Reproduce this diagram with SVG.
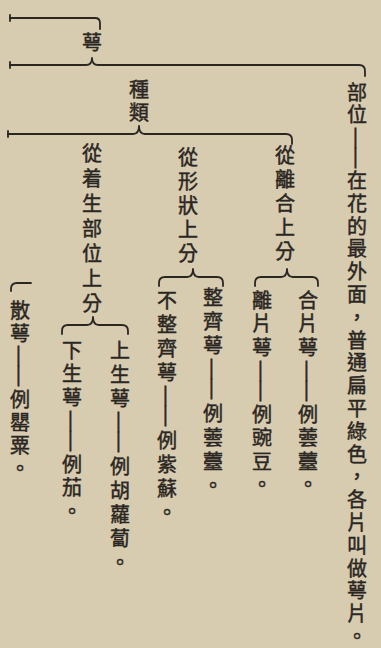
<svg xmlns="http://www.w3.org/2000/svg" width="381" height="648" viewBox="0 0 381 648">
<style>
.t{font-family:"Noto Sans CJK TC","Noto Sans CJK SC",sans-serif;font-size:20px;fill:#2a2622;stroke:#2a2622;stroke-width:0.45px;writing-mode:vertical-rl;text-orientation:mixed}
.b{fill:none;stroke:#2a2622;stroke-width:1.8;stroke-linecap:round;stroke-linejoin:round}
.d{font-family:"Liberation Serif",serif;letter-spacing:0;stroke-width:0.8px}
.d2{font-family:"Liberation Serif",serif;stroke-width:0.8px}
</style>
<rect width="381" height="648" fill="#d7cbb0"/>
<g id="connectors">
<path class="b" d="M10,18 L95,18 Q100,18 100,23 L100,29"/>
<path class="b" d="M10,15 L10,21"/>
<path class="b" d="M10,65 L86,65 Q92,65 92,58 Q92,65 98,65 L359,65 Q365,65 365,71 L365,76"/>
<path class="b" d="M10,62 L10,68"/>
<path class="b" d="M8,134 L133,134 Q139,134 139,126 Q139,134 145,134 L286,134 Q292,134 292,140 L292,144"/>
<path class="b" d="M8,131 L8,137"/>
<path class="b" d="M255,286 L255,283 Q255,277 261,277 L281,277 Q287,277 287,269 Q287,277 293,277 L312,277 Q318,277 318,283 L318,286"/>
<path class="b" d="M159,286 L159,283 Q159,277 165,277 L187,277 Q193,277 193,269 Q193,277 199,277 L217,277 Q223,277 223,283 L223,286"/>
<path class="b" d="M62,334 L62,331 Q62,325 68,325 L87,325 Q93,325 93,317 Q93,325 99,325 L122,325 Q128,325 128,331 L128,334"/>
<path class="b" d="M11,291 L11,289 Q11,283 17,283 L31,283"/>
</g>
<g id="n-e"><text class="t" x="92" y="32">萼</text></g>
<g id="n-buwei"><text class="t" x="357" y="82" style="letter-spacing:2.8px">部位<tspan class="d">—</tspan><tspan class="d2">—</tspan>在花的最外面，普通扁平綠色，各片叫做萼片。</text></g>
<g id="n-zhonglei"><text class="t" x="139" y="79" style="letter-spacing:3px">種類</text></g>
<g id="n-lihe"><text class="t" x="285" y="145" style="letter-spacing:4px">從離合上分</text></g>
<g id="n-hepian"><text class="t" x="308" y="290" style="letter-spacing:3.5px">合片萼<tspan class="d">—</tspan><tspan class="d2">—</tspan>例蕓薹。</text></g>
<g id="n-lipian"><text class="t" x="262" y="290" style="letter-spacing:3.5px">離片萼<tspan class="d">—</tspan><tspan class="d2">—</tspan>例豌豆。</text></g>
<g id="n-xingzhuang"><text class="t" x="188" y="147" style="letter-spacing:4px">從形狀上分</text></g>
<g id="n-zhengqi"><text class="t" x="213" y="287" style="letter-spacing:4px">整齊萼<tspan class="d">—</tspan><tspan class="d2">—</tspan>例蕓薹。</text></g>
<g id="n-buzhengqi"><text class="t" x="167" y="290" style="letter-spacing:4px">不整齊萼<tspan class="d">—</tspan><tspan class="d2">—</tspan>例紫蘇。</text></g>
<g id="n-zhuosheng"><text class="t" x="92" y="143" style="letter-spacing:5px">從着生部位上分</text></g>
<g id="n-shangsheng"><text class="t" x="120" y="340" style="letter-spacing:4px">上生萼<tspan class="d">—</tspan><tspan class="d2">—</tspan>例胡蘿蔔。</text></g>
<g id="n-xiasheng"><text class="t" x="72" y="340" style="letter-spacing:3.5px">下生萼<tspan class="d">—</tspan><tspan class="d2">—</tspan>例茄。</text></g>
<g id="n-sane"><text class="t" x="20" y="300" style="letter-spacing:3px">散萼<tspan class="d">—</tspan><tspan class="d2">—</tspan>例罌粟。</text></g>
</svg>
